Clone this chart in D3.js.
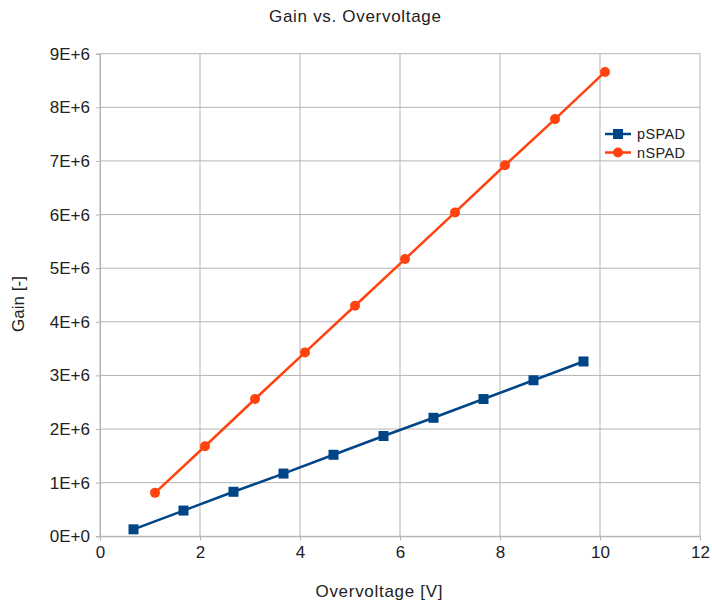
<!DOCTYPE html>
<html>
<head>
<meta charset="utf-8">
<script src="https://cdn.jsdelivr.net/npm/d3@7"></script>
<style>
  body { margin: 0; background: #fff; }
  svg { font-family: "Liberation Sans", Arial, sans-serif; }
</style>
</head>
<body>
<svg id="chart" width="712" height="603"></svg>
<script>
// data
const pVolt = [0.67, 1.67, 2.67, 3.67, 4.67, 5.67, 6.67, 7.67, 8.67, 9.67];
const pGain = [0.13e6, 0.48e6, 0.83e6, 1.17e6, 1.52e6, 1.87e6, 2.21e6, 2.56e6, 2.91e6, 3.26e6];
const nVolt = [1.1, 2.1, 3.1, 4.1, 5.1, 6.1, 7.1, 8.1, 9.1, 10.1];
const nGain = [0.81e6, 1.68e6, 2.56e6, 3.43e6, 4.30e6, 5.17e6, 6.04e6, 6.92e6, 7.78e6, 8.66e6];
const xTicks = [0, 2, 4, 6, 8, 10, 12];
const yTicks = [0, 1e6, 2e6, 3e6, 4e6, 5e6, 6e6, 7e6, 8e6, 9e6];
const seriesNames = ["pSPAD", "nSPAD"];
const seriesColors = ["#004586", "#ff420e"];

const svg = d3.select("#chart");
const plotL = 100, plotR = 700, plotT = 53.7, plotB = 536.3;
const gridColor = "#b3b3b3";

const x = d3.scaleLinear().domain([0, 12]).range([plotL, plotR]);
const y = d3.scaleLinear().domain([0, 9e6]).range([plotB, plotT]);

// title
svg.append("text").attr("x", 355).attr("y", 22).attr("text-anchor", "middle")
  .attr("font-size", 17).attr("fill", "#222").attr("textLength", 172)
  .text("Gain vs. Overvoltage");

// grid
svg.append("g").selectAll("line").data(xTicks).join("line")
  .attr("x1", d => x(d)).attr("x2", d => x(d)).attr("y1", plotT).attr("y2", plotB)
  .attr("stroke", gridColor).attr("stroke-width", 1);
svg.append("g").selectAll("line").data(yTicks).join("line")
  .attr("x1", plotL).attr("x2", plotR).attr("y1", d => y(d)).attr("y2", d => y(d))
  .attr("stroke", gridColor).attr("stroke-width", 1);

// axes
const xAxis = svg.append("g").attr("transform", `translate(0,${plotB})`)
  .call(d3.axisBottom(x).tickValues(xTicks).tickSize(4).tickPadding(6).tickFormat(d3.format("d")));
const yAxis = svg.append("g").attr("transform", `translate(${plotL},0)`)
  .call(d3.axisLeft(y).tickValues(yTicks).tickSize(4).tickPadding(6)
    .tickFormat(d => (d / 1e6) + "E+" + (d === 0 ? 0 : 6)));
[xAxis, yAxis].forEach(a => {
  a.select(".domain").attr("stroke", gridColor);
  a.selectAll(".tick line").attr("stroke", gridColor);
  a.selectAll(".tick text").attr("font-size", 17).attr("fill", "#222")
    .attr("font-family", "Liberation Sans, Arial, sans-serif");
});

// axis titles
svg.append("text").attr("x", 379).attr("y", 597).attr("text-anchor", "middle")
  .attr("font-size", 17).attr("fill", "#222").attr("textLength", 127)
  .text("Overvoltage [V]");
svg.append("text").attr("transform", "translate(24,304) rotate(-90)")
  .attr("text-anchor", "middle").attr("font-size", 17).attr("fill", "#222")
  .text("Gain [-]");

// series
const series = [
  { name: seriesNames[0], color: seriesColors[0], pts: pVolt.map((v, i) => [v, pGain[i]]), shape: "square" },
  { name: seriesNames[1], color: seriesColors[1], pts: nVolt.map((v, i) => [v, nGain[i]]), shape: "circle" }
];
const line = d3.line().x(d => x(d[0])).y(d => y(d[1]));

function marker(g, shape, color, cx, cy) {
  if (shape === "square") {
    g.append("rect").attr("x", cx - 5).attr("y", cy - 5).attr("width", 10).attr("height", 10).attr("fill", color);
  } else {
    g.append("circle").attr("cx", cx).attr("cy", cy).attr("r", 5).attr("fill", color);
  }
}

series.forEach(s => {
  svg.append("path").datum(s.pts).attr("d", line)
    .attr("fill", "none").attr("stroke", s.color).attr("stroke-width", 2.5);
  const g = svg.append("g");
  s.pts.forEach(p => marker(g, s.shape, s.color, x(p[0]), y(p[1])));
});

// legend
series.forEach((s, i) => {
  const ly = 134 + i * 18.5;
  const g = svg.append("g");
  g.append("line").attr("x1", 605).attr("x2", 631).attr("y1", ly).attr("y2", ly)
    .attr("stroke", s.color).attr("stroke-width", 2.5);
  marker(g, s.shape, s.color, 618, ly);
  g.append("text").attr("x", 637).attr("y", ly + 5).attr("font-size", 14.5)
    .attr("fill", "#222").attr("textLength", 48).text(s.name);
});
</script>
</body>
</html>
